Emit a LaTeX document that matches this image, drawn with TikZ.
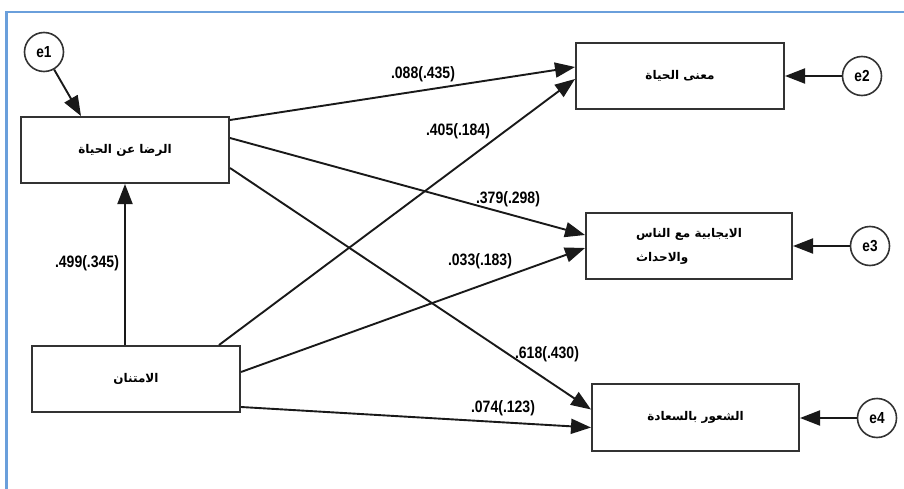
\documentclass[tikz,border=0pt]{standalone}
\usepackage{fontspec}
\usetikzlibrary{arrows.meta,calc}
\TeXXeTstate=1
\setmainfont{Liberation Sans}
\newfontfamily\lblfont[FakeStretch=0.85]{Liberation Sans}
\newfontfamily\arabicfont[Script=Arabic]{DejaVu Sans}
\definecolor{framec}{HTML}{6A9FDB}
\definecolor{boxline}{HTML}{333333}
\newcommand{\ar}[1]{{\arabicfont\bfseries\beginR #1\endR}}
\tikzset{
  x=1pt, y=-1pt,
  varbox/.style={draw=boxline, line width=2pt, fill=white, inner sep=0pt,
                 font=\fontsize{12}{24}\selectfont},
  errc/.style={draw=boxline, line width=1.6pt, circle, minimum size=39pt,
               inner sep=0pt, font=\lblfont\bfseries\fontsize{16}{16}\selectfont},
  causal/.style={draw=black!90, line width=1.9pt,
               -{Triangle[length=20pt,width=15pt]}},
  coef/.style={font=\lblfont\bfseries\fontsize{16.5}{16.5}\selectfont, inner sep=0pt}
}
\begin{document}
\begin{tikzpicture}
\useasboundingbox (0,0) rectangle (904,489);
% frame
\draw[framec, line width=2.5pt] (6.5,489) -- (6.5,12) -- (904,12);

% observed variables
\node[varbox, minimum width=208pt, minimum height=66pt] (R) at (125,150) {\ar{الرضا عن الحياة}};
\node[varbox, minimum width=208pt, minimum height=66pt] (A) at (136,379) {\ar{الامتنان}};
\node[varbox, minimum width=208pt, minimum height=66pt] (M) at (680,76) {\ar{معنى الحياة}};
\node[varbox, minimum width=206pt, minimum height=66pt, align=left] (P) at (689,246)
  {\ar{الايجابية مع الناس}\\\ar{والاحداث}};
\node[varbox, minimum width=207pt, minimum height=67pt] (S) at (695.5,417.5) {\ar{الشعور بالسعادة}};

% error terms
\node[errc] (e1) at (44,52) {e1};
\node[errc] (e2) at (862,76) {e2};
\node[errc] (e3) at (870,246) {e3};
\node[errc] (e4) at (877,418) {e4};

% residual paths
\draw[causal] (e1) -- ($(R.north)+(-44,0)$);
\draw[causal] (e2) -- (M.east);
\draw[causal] (e3) -- (P.east);
\draw[causal] (e4) -- ($(S.east)+(0,0.5)$);

% structural paths
\draw[causal] (A.north -| R.south) -- (R.south);
\draw[causal] ($(R.east)+(0,-30)$) -- ($(M.west)+(0,-9)$);
\draw[causal] ($(A.north)+(83,0)$) -- ($(M.west)+(0,3)$);
\draw[causal] ($(R.east)+(0,-12)$) -- ($(P.west)+(0,-11)$);
\draw[causal] ($(A.east)+(0,-7)$) -- ($(P.west)+(0,2)$);
\draw[causal] ($(R.east)+(0,18)$) -- ($(S.west)+(0,-8)$);
\draw[causal] ($(A.east)+(0,28)$) -- ($(S.west)+(0,10)$);

% coefficients
\node[coef] (c1) at (423,74) {.088(.435)};
\node[coef] (c2) at (458,131) {.405(.184)};
\node[coef] (c3) at (508,199) {.379(.298)};
\node[coef] (c4) at (480,261) {.033(.183)};
\node[coef] (c5) at (547,354) {.618(.430)};
\node[coef] (c6) at (503,408) {.074(.123)};
\node[coef] (c7) at (87,263) {.499(.345)};
\end{tikzpicture}
\end{document}
